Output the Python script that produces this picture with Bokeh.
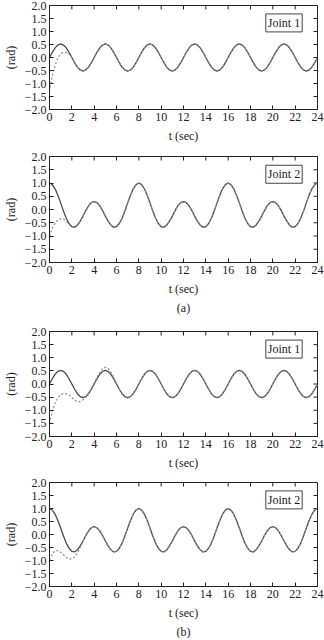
from bokeh.plotting import figure
from bokeh.layouts import column
from bokeh.models import FixedTicker, Range1d, Label, Title
from bokeh.embed import file_html
from bokeh.resources import INLINE
import numpy as np

# time samples (s)
t = np.linspace(0, 24, 97)

x_ticks = [0, 2, 4, 6, 8, 10, 12, 14, 16, 18, 20, 22, 24]
y_ticks = [-2.0, -1.5, -1.0, -0.5, 0.0, 0.5, 1.0, 1.5, 2.0]
y_tick_labels = ["\u22122.0", "\u22121.5", "\u22121.0", "\u22120.5", "0.0", "0.5", "1.0", "1.5", "2.0"]
x_limits = (0, 24)
y_limits = (-2.0, 2.0)

# desired trajectory, joint 1 (rad), read every 0.25 s
joint1_desired = [
    0.00, 0.20, 0.37, 0.48, 0.52, 0.48, 0.37, 0.20, 0.00, -0.20, -0.37, -0.48, -0.52, -0.48, -0.37, -0.20,
    0.00, 0.20, 0.37, 0.48, 0.52, 0.48, 0.37, 0.20, 0.00, -0.20, -0.37, -0.48, -0.52, -0.48, -0.37, -0.20,
    0.00, 0.20, 0.37, 0.48, 0.52, 0.48, 0.37, 0.20, 0.00, -0.20, -0.37, -0.48, -0.52, -0.48, -0.37, -0.20,
    0.00, 0.20, 0.37, 0.48, 0.52, 0.48, 0.37, 0.20, 0.00, -0.20, -0.37, -0.48, -0.52, -0.48, -0.37, -0.20,
    0.00, 0.20, 0.37, 0.48, 0.52, 0.48, 0.37, 0.20, 0.00, -0.20, -0.37, -0.48, -0.52, -0.48, -0.37, -0.20,
    0.00, 0.20, 0.37, 0.48, 0.52, 0.48, 0.37, 0.20, 0.00, -0.20, -0.37, -0.48, -0.52, -0.48, -0.37, -0.20,
    -0.02,
]

# desired trajectory, joint 2 (rad), read every 0.25 s
joint2_desired = [
    1.00, 0.94, 0.78, 0.54, 0.25, -0.06, -0.33, -0.53, -0.65, -0.67, -0.59, -0.44, -0.25, -0.04, 0.14, 0.26,
    0.30, 0.26, 0.14, -0.04, -0.25, -0.44, -0.59, -0.67, -0.65, -0.53, -0.33, -0.06, 0.25, 0.54, 0.78, 0.94,
    1.00, 0.94, 0.78, 0.54, 0.25, -0.06, -0.33, -0.53, -0.65, -0.67, -0.59, -0.44, -0.25, -0.04, 0.14, 0.26,
    0.30, 0.26, 0.14, -0.04, -0.25, -0.44, -0.59, -0.67, -0.65, -0.53, -0.33, -0.06, 0.25, 0.54, 0.78, 0.94,
    1.00, 0.94, 0.78, 0.54, 0.25, -0.06, -0.33, -0.53, -0.65, -0.67, -0.59, -0.44, -0.25, -0.04, 0.14, 0.26,
    0.30, 0.26, 0.14, -0.04, -0.25, -0.44, -0.59, -0.67, -0.65, -0.53, -0.33, -0.06, 0.25, 0.54, 0.78, 0.94,
    1.00,
]

# actual trajectories: transient start, then they follow the desired curves
a_joint1_start = [-1.30, -0.70, -0.30, -0.02, 0.14, 0.20, 0.20, 0.12, 0.01]
a_joint2_start = [-1.00, -0.70, -0.50, -0.40, -0.35, -0.36, -0.45, -0.56, -0.64]
b_joint1_start = [
    -1.50, -1.05, -0.72, -0.52, -0.41, -0.36, -0.37, -0.43, -0.52, -0.61, -0.67, -0.67, -0.60,
    -0.49, -0.35, -0.17, 0.04, 0.26, 0.45, 0.59, 0.64, 0.60, 0.46, 0.26, 0.03, -0.20, -0.38,
    -0.50, -0.54, -0.49, -0.37, -0.20, 0.00, 0.20, 0.37, 0.48, 0.51,
]
b_joint2_start = [-0.98, -0.75, -0.63, -0.62, -0.68, -0.78, -0.88, -0.94, -0.94, -0.86, -0.72, -0.50, -0.26]

a_joint1_actual = a_joint1_start + joint1_desired[len(a_joint1_start):]
a_joint2_actual = a_joint2_start + joint2_desired[len(a_joint2_start):]
b_joint1_actual = b_joint1_start + joint1_desired[len(b_joint1_start):]
b_joint2_actual = b_joint2_start + joint2_desired[len(b_joint2_start):]

FONT = "Liberation Serif"
INK = "#222222"


def panel(desired, actual, name, frame_h, top, bottom, caption=None):
    p = figure(frame_width=268, frame_height=frame_h,
               min_border_left=48, min_border_right=8,
               min_border_top=top, min_border_bottom=bottom,
               x_range=Range1d(*x_limits), y_range=Range1d(*y_limits),
               output_backend="svg", toolbar_location=None)
    p.grid.visible = False
    p.outline_line_color = INK
    p.outline_line_width = 1
    p.background_fill_color = "white"
    p.border_fill_color = "white"

    for ax in (p.xaxis[0], p.yaxis[0]):
        ax.major_tick_in = 4
        ax.major_tick_out = 0
        ax.minor_tick_line_color = None
        ax.axis_line_color = INK
        ax.major_tick_line_color = INK
        ax.major_label_text_font = FONT
        ax.major_label_text_font_size = "12px"
        ax.major_label_text_color = INK
        ax.axis_label_text_font = FONT
        ax.axis_label_text_font_size = "12px"
        ax.axis_label_text_font_style = "normal"
        ax.axis_label_text_color = INK
        ax.major_label_standoff = 3
    p.xaxis.axis_label_standoff = 5
    p.yaxis.axis_label_standoff = 4
    p.xaxis.ticker = FixedTicker(ticks=x_ticks)
    p.yaxis.ticker = FixedTicker(ticks=y_ticks)
    p.yaxis.major_label_overrides = dict(zip(y_ticks, y_tick_labels))
    p.xaxis.axis_label = "t (sec)"
    p.yaxis.axis_label = "(rad)"

    # inward ticks on the top and right edges of the box
    p.scatter(x_ticks, [y_limits[1]] * len(x_ticks), marker="dash", angle=np.pi / 2,
              size=8, line_color=INK, line_width=1)
    p.scatter([x_limits[1]] * len(y_ticks), y_ticks, marker="dash",
              size=8, line_color=INK, line_width=1)

    p.line(t, desired, line_color="#4a4a4a", line_width=1.3)
    p.line(t, actual, line_color="#8c8c8c", line_width=1.2, line_dash="2 2")

    p.add_layout(Label(x=21.0, y=1.33, text=name, text_align="center", text_baseline="middle",
                       text_font=FONT, text_font_size="12px", text_color=INK,
                       border_line_color="#444444", border_line_width=1,
                       background_fill_color="white", padding=2))
    if caption:
        p.add_layout(Title(text=caption, align="center", text_font=FONT, text_font_size="12px",
                           text_font_style="normal", text_color=INK, standoff=0), "below")
    return p


p1 = panel(joint1_desired, a_joint1_actual, "Joint 1", 104, 5, 42)
p2 = panel(joint2_desired, a_joint2_actual, "Joint 2", 106, 5, 64, "(a)")
p3 = panel(joint1_desired, b_joint1_actual, "Joint 1", 105, 5, 41)
p4 = panel(joint2_desired, b_joint2_actual, "Joint 2", 104, 5, 40, "(b)")

layout = column(p1, p2, p3, p4, spacing=0)
open("out.html", "w").write(file_html(layout, INLINE))
